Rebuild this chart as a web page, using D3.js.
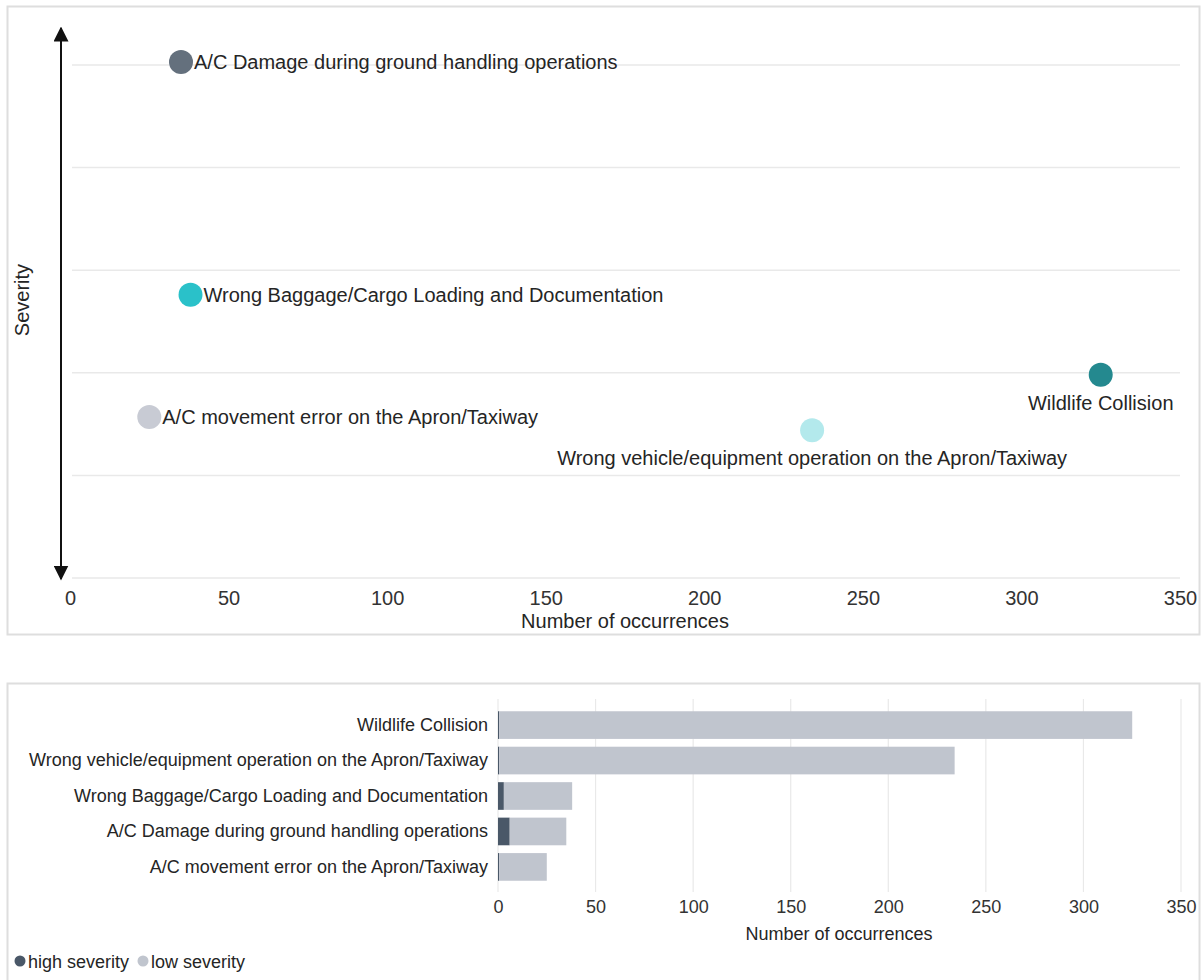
<!DOCTYPE html>
<html>
<head>
<meta charset="utf-8">
<script src="https://cdn.jsdelivr.net/npm/d3@7"></script>
<style>
  body { margin: 0; background: #fff; }
  svg { display: block; font-family: "Liberation Sans", Arial, sans-serif; }
</style>
</head>
<body>
<svg id="chart" width="1203" height="980"></svg>
<script>
// occurrence categories
var categories = [
  'A/C Damage during ground handling operations',
  'Wrong Baggage/Cargo Loading and Documentation',
  'A/C movement error on the Apron/Taxiway',
  'Wildlife Collision',
  'Wrong vehicle/equipment operation on the Apron/Taxiway'
];
var occurrences = [35, 38, 25, 325, 234];
var severity = [5.03, 2.76, 1.57, 1.98, 1.44];
var pointColors = ['#64707d', '#2ac1c9', '#c8cbd4', '#24898f', '#b3e9ec'];

// bar chart (top to bottom)
var barCategories = [
  'Wildlife Collision',
  'Wrong vehicle/equipment operation on the Apron/Taxiway',
  'Wrong Baggage/Cargo Loading and Documentation',
  'A/C Damage during ground handling operations',
  'A/C movement error on the Apron/Taxiway'
];
var highSeverity = [0.6, 0.6, 3, 6, 0.6];
var lowSeverity = [324.4, 233.4, 35, 29, 24.4];
var seriesNames = ['high severity', 'low severity'];
var seriesColors = ['#4a5868', '#c0c5ce'];
var xTicks = [0, 50, 100, 150, 200, 250, 300, 350];

var svg = d3.select('#chart');
var textColor = '#252525';
var bigFont = 20, smallFont = 18;

// panel frames
svg.append('rect').attr('x', 7.5).attr('y', 6.5).attr('width', 1192).attr('height', 628)
  .attr('fill', 'none').attr('stroke', '#dedede').attr('stroke-width', 2);
svg.append('rect').attr('x', 7.5).attr('y', 683.5).attr('width', 1192).attr('height', 320)
  .attr('fill', 'none').attr('stroke', '#dedede').attr('stroke-width', 2);

// ---------- scatter ----------
var x1 = d3.scaleLinear().domain([0, 350]).range([70, 1180]);
var y1 = d3.scaleLinear().domain([0, 5]).range([578, 65]);

var topG = svg.append('g');
topG.selectAll('line.grid').data(d3.range(0, 6)).enter().append('line')
  .attr('class', 'grid')
  .attr('x1', 72).attr('x2', 1180)
  .attr('y1', function(d){ return y1(d); }).attr('y2', function(d){ return y1(d); })
  .attr('stroke', '#e9e9e9').attr('stroke-width', 1.5);

var xAxis1 = topG.append('g').attr('transform', 'translate(0,578)')
  .call(d3.axisBottom(x1).tickValues(xTicks).tickSize(0).tickPadding(13));
xAxis1.select('.domain').remove();
xAxis1.selectAll('text').attr('font-size', bigFont).attr('fill', '#333').attr('font-family', 'Liberation Sans, Arial, sans-serif');

topG.append('text').attr('x', 625).attr('y', 628).attr('text-anchor', 'middle')
  .attr('font-size', bigFont).attr('fill', textColor).text('Number of occurrences');

// severity arrow
var defs = svg.append('defs');
defs.append('marker').attr('id', 'arr').attr('viewBox', '0 0 10 10')
  .attr('refX', 9).attr('refY', 5).attr('markerWidth', 7.5).attr('markerHeight', 7.5)
  .attr('markerUnits', 'strokeWidth').attr('orient', 'auto-start-reverse')
  .append('path').attr('d', 'M0,0 L10,5 L0,10 Z').attr('fill', '#111');
topG.append('line').attr('x1', 61).attr('x2', 61).attr('y1', 28).attr('y2', 579)
  .attr('stroke', '#111').attr('stroke-width', 2)
  .attr('marker-start', 'url(#arr)').attr('marker-end', 'url(#arr)');
topG.append('text').attr('transform', 'translate(29,300) rotate(-90)')
  .attr('text-anchor', 'middle').attr('font-size', bigFont).attr('fill', textColor).text('Severity');

var pts = categories.map(function(c, i){
  return { name: c, x: occurrences[i], y: severity[i], color: pointColors[i] };
});
var pg = topG.selectAll('g.pt').data(pts).enter().append('g').attr('class', 'pt');
pg.append('circle')
  .attr('cx', function(d){ return x1(d.x); }).attr('cy', function(d){ return y1(d.y); })
  .attr('r', 12).attr('fill', function(d){ return d.color; });
pg.append('text')
  .attr('x', function(d){ return d.x > 150 ? x1(d.x) : x1(d.x) + 13; })
  .attr('y', function(d){ return d.x > 150 ? y1(d.y) + 35 : y1(d.y) + 7.5; })
  .attr('text-anchor', function(d){ return d.x > 150 ? 'middle' : 'start'; })
  .attr('font-size', bigFont).attr('fill', textColor)
  .text(function(d){ return d.name; });

// ---------- bars ----------
var x2 = d3.scaleLinear().domain([0, 350]).range([498, 1181]);
var y2 = d3.scaleBand().domain(barCategories).range([707, 885]).paddingInner(0.22).paddingOuter(0.12);

var bottomG = svg.append('g');
bottomG.selectAll('line.vgrid').data(xTicks).enter().append('line')
  .attr('class', 'vgrid')
  .attr('x1', function(d){ return x2(d); }).attr('x2', function(d){ return x2(d); })
  .attr('y1', 699).attr('y2', 892)
  .attr('stroke', '#e9e9e9').attr('stroke-width', 1.2);

var stack = d3.stack().keys([0, 1]).value(function(d, k){ return k === 0 ? d.high : d.low; });
var barData = barCategories.map(function(c, i){ return { name: c, high: highSeverity[i], low: lowSeverity[i] }; });
var layers = stack(barData);
bottomG.selectAll('g.layer').data(layers).enter().append('g').attr('class', 'layer')
  .attr('fill', function(d, i){ return seriesColors[i]; })
  .selectAll('rect').data(function(d){ return d; }).enter().append('rect')
  .attr('x', function(d){ return x2(d[0]); })
  .attr('width', function(d){ return x2(d[1]) - x2(d[0]); })
  .attr('y', function(d){ return y2(d.data.name); })
  .attr('height', y2.bandwidth());

var yAxis2 = bottomG.append('g').attr('transform', 'translate(498,0)')
  .call(d3.axisLeft(y2).tickSize(0).tickPadding(10));
yAxis2.select('.domain').remove();
yAxis2.selectAll('text').attr('font-size', smallFont).attr('fill', textColor).attr('font-family', 'Liberation Sans, Arial, sans-serif');

var xAxis2 = bottomG.append('g').attr('transform', 'translate(0,893)')
  .call(d3.axisBottom(x2).tickValues(xTicks).tickSize(0).tickPadding(7));
xAxis2.select('.domain').remove();
xAxis2.selectAll('text').attr('font-size', smallFont).attr('fill', '#333').attr('font-family', 'Liberation Sans, Arial, sans-serif');

bottomG.append('text').attr('x', 839).attr('y', 940).attr('text-anchor', 'middle')
  .attr('font-size', smallFont).attr('fill', textColor).text('Number of occurrences');

// legend
var lg = bottomG.append('g').attr('transform', 'translate(20,961)');
var lx = [0, 123];
seriesNames.forEach(function(n, i){
  lg.append('circle').attr('cx', lx[i]).attr('cy', 0).attr('r', 5.5).attr('fill', seriesColors[i]);
  lg.append('text').attr('x', lx[i] + 8).attr('y', 6.5).attr('font-size', smallFont).attr('fill', textColor).text(n);
});
</script>
</body>
</html>
